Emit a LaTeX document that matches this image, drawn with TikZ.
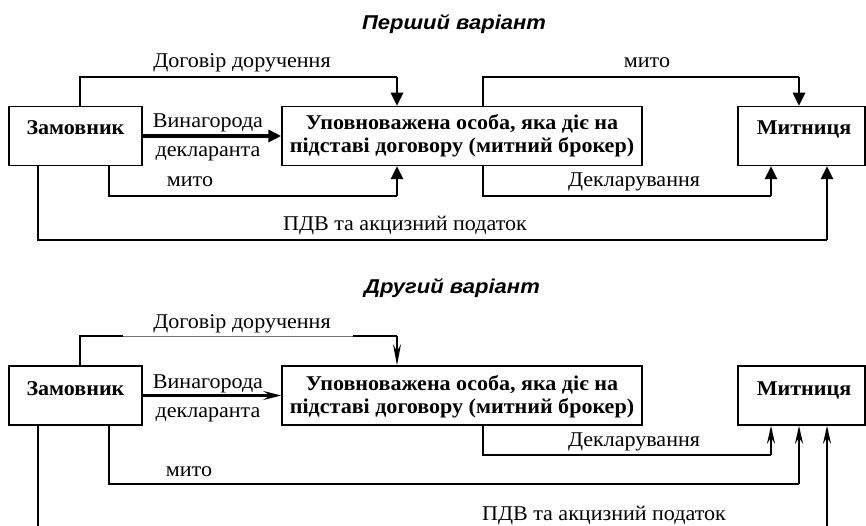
\documentclass[tikz,border=0pt]{standalone}
\usepackage{fontspec}
\setmainfont{Liberation Serif}[FakeStretch=1.05]
\newfontfamily\headfont{Liberation Sans}[FakeStretch=1.1]
\usetikzlibrary{arrows.meta,calc}

\begin{document}
\begin{tikzpicture}[x=1pt,y=-1pt,
  box/.style={draw,line width=1.5pt,inner sep=0pt,minimum height=59pt},
  lbl/.style={anchor=base,inner sep=0pt,font=\fontsize{21}{24}\selectfont},
  boxtxt/.style={anchor=base,inner sep=0pt,align=center,font=\fontsize{21}{24}\selectfont\bfseries},
  headtxt/.style={anchor=base,inner sep=0pt,font=\headfont\fontsize{20}{22}\selectfont\bfseries\itshape},
  conn/.style={line width=1.4pt},
  tri/.style={line width=2.6pt,-{Triangle[length=13pt,width=12pt]}},
  stl/.style={line width=2.4pt,-{Stealth[length=18pt,width=8pt,inset=6pt]}}]
\useasboundingbox (0,0) rectangle (866,526);

% ---------------- first scheme ----------------
\node[headtxt] (h1) at (454,30) {Перший варіант};

\node[box,minimum width=133pt] (Z1) at (75.5,136) {};
\node[box,minimum width=360pt] (B1) at (462,136) {};
\node[box,minimum width=127pt] (M1) at (801.5,136) {};
\node[boxtxt] (z1t) at (75.5,135) {Замовник};
\node[boxtxt] (b1t) at (462,130) {Уповноважена особа, яка діє на};
\node[boxtxt] (b1u) at (462,153) {підставі договору (митний брокер)};
\node[boxtxt] (m1t) at (804,135) {Митниця};

% corner points of the connectors
\coordinate (a1) at (80,77);   \coordinate (a2) at (397,77);
\coordinate (c1) at (109,196); \coordinate (c2) at (397,196);
\coordinate (p1) at (38,240);  \coordinate (p2) at (827,240);
\coordinate (e1) at (483,77);  \coordinate (e2) at (799,77);
\coordinate (f1) at (483,196); \coordinate (f2) at (771,196);

% contract
\draw[conn] (Z1.north -| a1) -- (a1) -- (a2);
\draw[tri] (a2) -- (B1.north -| a2);
% fee
\draw[line width=3.5pt,-{Triangle[length=13pt,width=12pt]}] (Z1.east) -- (B1.west);
% duty paid through the broker
\draw[conn] (Z1.south -| c1) -- (c1) -- (c2);
\draw[tri] (c2) -- (B1.south -| c2);
% VAT and excise
\draw[conn] (Z1.south -| p1) -- (p1) -- (p2);
\draw[tri] (p2) -- (M1.south -| p2);
% duty to customs
\draw[conn] (B1.north -| e1) -- (e1) -- (e2);
\draw[tri] (e2) -- (M1.north -| e2);
% declaration
\draw[conn] (B1.south -| f1) -- (f1) -- (f2);
\draw[tri] (f2) -- (M1.south -| f2);

\node[lbl] (l1) at (242,68) {Договір доручення};
\node[lbl] (l2) at (208,128) {Винагорода};
\node[lbl] (l3) at (208,157) {декларанта};
\node[lbl] (l4) at (190,187) {мито};
\node[lbl] (l5) at (405,231) {ПДВ та акцизний податок};
\node[lbl] (l6) at (647,68) {мито};
\node[lbl] (l7) at (634,187) {Декларування};

% ---------------- second scheme ----------------
\node[headtxt] (h2) at (452,293) {Другий варіант};

\node[box,minimum width=133pt] (Z2) at (75.5,395.5) {};
\node[box,minimum width=360pt] (B2) at (462,395.5) {};
\node[box,minimum width=127pt] (M2) at (801.5,395.5) {};
\node[boxtxt] (z2t) at (75.5,395) {Замовник};
\node[boxtxt] (b2t) at (462,390) {Уповноважена особа, яка діє на};
\node[boxtxt] (b2u) at (462,413) {підставі договору (митний брокер)};
\node[boxtxt] (m2t) at (804,395) {Митниця};

\coordinate (g1) at (80,336);  \coordinate (g2) at (123,336);
\coordinate (g3) at (353,336); \coordinate (g4) at (397,336);
\coordinate (k1) at (483,455); \coordinate (k2) at (771,455);
\coordinate (n1) at (109,484); \coordinate (n2) at (799,484);
\coordinate (q1) at (38,526);  \coordinate (q2) at (827,526);

% contract
\draw[conn] (Z2.north -| g1) -- (g1) -- (g2);
\draw[line width=0.8pt,black!55] (g2) -- (g3);
\draw[conn] (g3) -- (g4);
\draw[line width=1.4pt,-{Stealth[length=21pt,width=8pt,inset=7pt]}] (g4) -- (B2.north -| g4);
% fee
\draw[line width=3pt,-{Stealth[length=18pt,width=9pt,inset=7pt]}] (Z2.east) -- (B2.west);
% declaration
\draw[conn] (B2.south -| k1) -- (k1) -- (k2);
\draw[stl] (k2) -- (M2.south -| k2);
% duty paid directly
\draw[conn] (Z2.south -| n1) -- (n1) -- (n2);
\draw[stl] (n2) -- (M2.south -| n2);
% VAT and excise
\draw[conn] (Z2.south -| q1) -- (q1);
\draw[stl] (q2) -- (M2.south -| q2);

\node[lbl] (r1) at (242,328) {Договір доручення};
\node[lbl] (r2) at (208,388) {Винагорода};
\node[lbl] (r3) at (208,417) {декларанта};
\node[lbl] (r4) at (634,446) {Декларування};
\node[lbl] (r5) at (189,476) {мито};
\node[lbl] (r6) at (604,520) {ПДВ та акцизний податок};
\end{tikzpicture}
\end{document}
